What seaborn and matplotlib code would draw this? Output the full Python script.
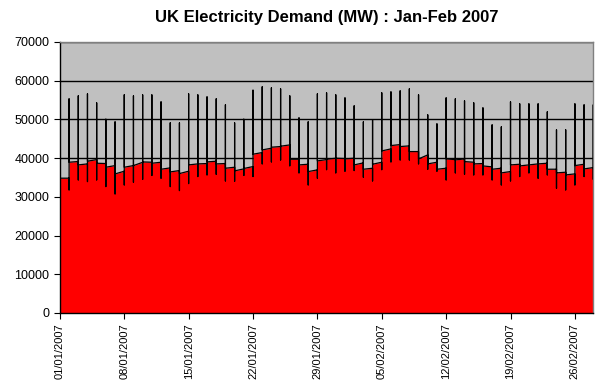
import numpy as np
import seaborn as sns
import matplotlib.pyplot as plt

# daily half-hourly demand summary (MW), 01/01/2007 .. 28/02/2007
day_start = [34800, 34800, 39100, 38490, 39600, 38580, 38050, 36600, 38050, 38900,
             38920, 38920, 37460, 36770, 36600, 38490, 38580, 39180, 38580, 37630,
             37200, 37800, 41420, 42540, 42970, 43390, 39690, 38400, 36940, 39600,
             39950, 39860, 39950, 38750, 37370, 38920, 42360, 43480, 43140, 41670,
             40810, 38920, 37370, 39600, 39780, 38920, 38580, 37720, 37370, 36510,
             38400, 38230, 38490, 38660, 37110, 36340, 35910, 38400, 37540]
day_low = [31500, 31770, 34350, 33920, 34350, 32630, 30740, 33060, 33750, 34500,
           35500, 34790, 32630, 31600, 33410, 35220, 35650, 35820, 34090, 34000,
           35500, 35220, 38500, 39000, 39500, 38000, 36170, 33060, 34790, 37000,
           36170, 36600, 36770, 35050, 34090, 37000, 39000, 39500, 39500, 38500,
           37110, 36600, 34350, 36170, 35820, 35650, 35650, 34350, 33060, 34090,
           35220, 36170, 34790, 35650, 32200, 31770, 33060, 35220, 34500]
day_high = [47000, 55280, 56050, 56570, 54240, 50030, 49340, 56310, 56050, 56300,
            56310, 54500, 49080, 49080, 56570, 56310, 55790, 55280, 53730, 49080,
            50030, 57520, 58380, 58120, 57860, 56050, 50370, 49340, 56570, 56830,
            56310, 55530, 53470, 49340, 49850, 56830, 57080, 57340, 57860, 56310,
            51140, 48820, 55530, 55280, 54760, 54240, 52950, 48560, 48040, 54500,
            53990, 53990, 53990, 51920, 47270, 47270, 53990, 53730, 53730]
day_end = [34800, 38920, 38230, 39180, 38660, 37630, 35900, 37630, 38050, 39000,
           38660, 37110, 36420, 35990, 38230, 38490, 39000, 38490, 37370, 36690,
           37300, 40990, 42100, 42800, 43060, 39690, 38230, 36510, 39260, 39690,
           39950, 39780, 38230, 37110, 38400, 41840, 43220, 42970, 41670, 39780,
           38490, 37110, 39780, 39520, 39090, 38490, 37970, 37110, 36170, 38230,
           37970, 38230, 38490, 37110, 36170, 35650, 38050, 37200, 37540]
tick_labels = ["01/01/2007", "08/01/2007", "15/01/2007", "22/01/2007", "29/01/2007",
               "05/02/2007", "12/02/2007", "19/02/2007", "26/02/2007"]

sns.set_style("white")
plt.rcParams['font.family'] = ['Liberation Sans', 'DejaVu Sans']
plt.rcParams['text.color'] = "black"
plt.rcParams['xtick.color'] = "black"
plt.rcParams['ytick.color'] = "black"

days = np.arange(len(day_start))
# all points of one day sit on the same date -> vertical spikes like in excel
x = np.repeat(days, 4)
y = np.column_stack([day_start, day_low, day_high, day_end]).ravel()

fig = plt.figure(figsize=(6.11, 3.84), dpi=100)
ax = fig.add_axes([0.098, 0.185, 0.873, 0.706])
ax.set_facecolor("#C0C0C0")

for g in range(10000, 70001, 10000):
    ax.axhline(g, color="black", lw=1, zorder=1)

ax.fill_between(x, y, 0, color="#FF0000", lw=0, zorder=2)
sns.lineplot(x=x, y=y, estimator=None, sort=False, color="black", lw=0.9, ax=ax, zorder=3)

ax.set_xlim(0, len(days) - 1)
ax.set_ylim(0, 70000)
ax.set_yticks(range(0, 70001, 10000))
ax.set_xticks(days[::7])
ax.set_xticklabels(tick_labels, rotation=90, fontsize=8)
ax.tick_params(axis="y", labelsize=9, length=4, direction="out", left=True)
ax.tick_params(axis="x", length=4, direction="out", bottom=True)
ax.set_xlabel("")
ax.set_ylabel("")

for s in ["left", "bottom"]:
    ax.spines[s].set_color("black")
    ax.spines[s].set_linewidth(1)
for s in ["top", "right"]:
    ax.spines[s].set_color("#808080")
    ax.spines[s].set_linewidth(1)

ax.set_title("UK Electricity Demand (MW) : Jan-Feb 2007", fontsize=12, fontweight="bold",
             color="black", pad=14)

fig.savefig("out.png", dpi=100)
